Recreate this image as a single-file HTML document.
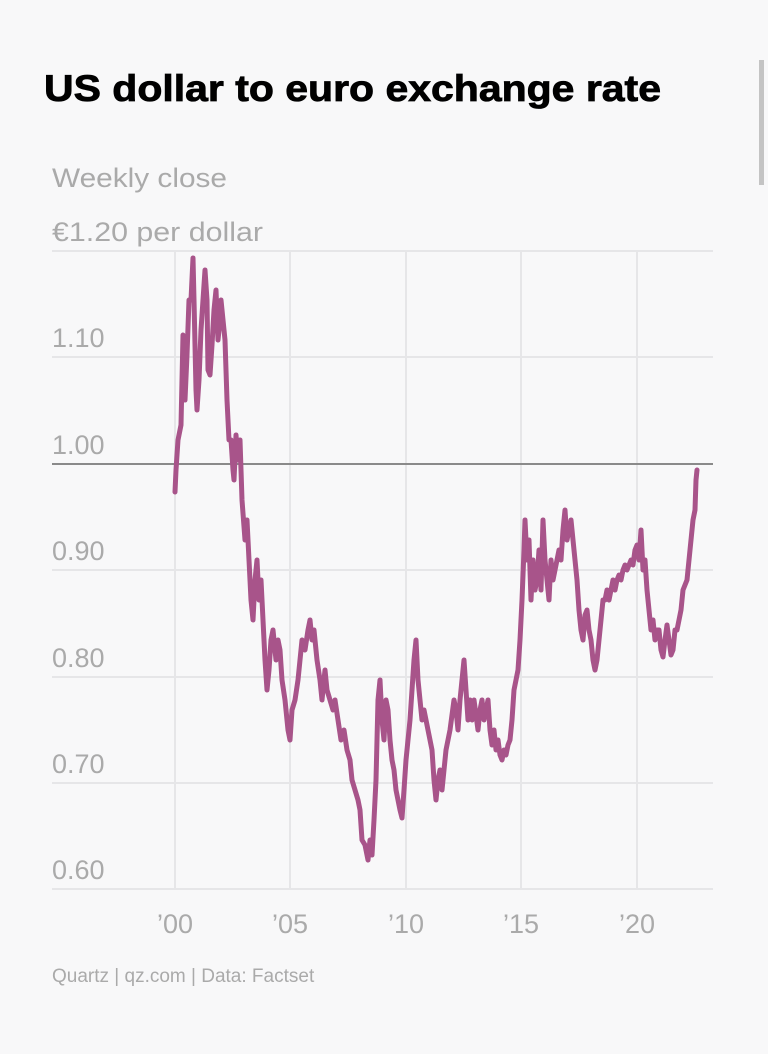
<!DOCTYPE html>
<html><head><meta charset="utf-8"><style>
html,body{margin:0;padding:0;background:#f8f8f9;}
svg{display:block;}
</style></head><body>
<svg width="768" height="1054" viewBox="0 0 768 1054" xmlns="http://www.w3.org/2000/svg" font-family="Liberation Sans, sans-serif">
<rect width="768" height="1054" fill="#f8f8f9"/>
<rect x="759" y="60" width="5" height="125" fill="#c4c4c4"/>
<text x="44" y="101" font-size="37" font-weight="bold" fill="#000" stroke="#000" stroke-width="0.8" textLength="617" lengthAdjust="spacingAndGlyphs">US dollar to euro exchange rate</text>
<text x="52" y="187" font-size="27" fill="#aaaaaa" textLength="175" lengthAdjust="spacingAndGlyphs">Weekly close</text>
<text x="52" y="241" font-size="27" fill="#aaaaaa" textLength="211" lengthAdjust="spacingAndGlyphs">€1.20 per dollar</text>
<g stroke="#e6e6e8" stroke-width="2">
<line x1="52" y1="251" x2="713" y2="251"/>
<line x1="52" y1="357" x2="713" y2="357"/>
<line x1="52" y1="570" x2="713" y2="570"/>
<line x1="52" y1="677" x2="713" y2="677"/>
<line x1="52" y1="783" x2="713" y2="783"/>
<line x1="52" y1="889" x2="713" y2="889"/>
<line x1="175" y1="251" x2="175" y2="889"/>
<line x1="290" y1="251" x2="290" y2="889"/>
<line x1="406" y1="251" x2="406" y2="889"/>
<line x1="521" y1="251" x2="521" y2="889"/>
<line x1="637" y1="251" x2="637" y2="889"/>
</g>
<line x1="52" y1="464" x2="713" y2="464" stroke="#8a8a8a" stroke-width="2"/>
<g font-size="27" fill="#aaaaaa">
<text x="52" y="347">1.10</text>
<text x="52" y="454">1.00</text>
<text x="52" y="560">0.90</text>
<text x="52" y="667">0.80</text>
<text x="52" y="773">0.70</text>
<text x="52" y="879">0.60</text>
</g>
<g font-size="27" fill="#aaaaaa" text-anchor="middle">
<text x="175" y="933">’00</text>
<text x="290" y="933">’05</text>
<text x="406" y="933">’10</text>
<text x="521" y="933">’15</text>
<text x="637" y="933">’20</text>
</g>
<text x="52" y="982" font-size="19" fill="#aaaaaa">Quartz | qz.com | Data: Factset</text>
<polyline fill="none" stroke="#a8548a" stroke-width="5" stroke-linejoin="round" stroke-linecap="round" points="175,492 176,470 178,440 181,425 183,335 185,400 187,355 189,300 191,300 193,258 194,300 196,390 197,410 199,380 201,330 203,300 205,270 207,300 208,370 210,375 212,345 214,310 216,290 218,340 219,330 221,300 223,320 225,340 227,400 229,440 231,440 233,470 234,480 236,435 238,460 240,440 242,500 245,540 247,520 249,560 251,600 253,620 255,580 257,560 259,600 261,580 263,620 265,660 267,690 269,670 271,640 273,630 276,660 278,640 280,650 282,680 285,700 288,730 290,740 292,710 295,700 298,680 300,660 302,640 305,650 308,630 310,620 312,640 314,630 317,660 320,680 322,700 325,670 327,690 330,700 333,710 335,700 338,720 341,740 344,730 347,750 350,760 352,780 355,790 358,800 360,810 362,840 365,845 368,860 370,840 372,855 374,820 376,780 378,700 380,680 382,720 384,740 386,700 388,710 390,740 392,760 394,770 396,790 398,800 400,810 402,818 404,790 406,760 408,740 410,720 412,690 414,660 416,640 418,680 420,700 422,720 424,710 426,720 428,730 430,740 432,750 434,780 436,800 438,780 440,770 442,790 444,770 446,750 448,740 450,730 452,715 454,700 456,710 458,730 460,700 462,680 464,660 466,690 468,720 470,700 472,720 474,700 476,715 478,730 480,710 482,700 484,720 486,710 488,700 490,730 492,745 494,730 496,750 498,740 500,755 502,760 504,750 506,755 508,745 510,740 512,720 514,690 516,680 518,670 520,640 522,600 524,550 525,520 527,560 529,540 531,600 533,560 535,590 537,580 539,550 541,590 543,520 545,560 547,580 549,600 551,560 553,580 555,570 557,560 559,550 561,560 563,530 565,510 567,540 569,530 571,520 573,540 575,560 577,580 579,610 581,630 583,640 585,615 587,610 589,630 591,640 593,660 595,670 597,660 599,640 601,620 603,600 605,600 607,590 609,600 611,590 613,580 615,590 617,580 619,575 621,580 623,570 625,565 627,570 629,565 631,560 633,565 635,550 637,545 639,560 641,530 643,570 645,560 647,590 649,610 651,630 653,620 655,640 657,630 659,630 661,650 663,657 665,640 667,625 669,640 671,655 673,650 675,630 677,630 679,620 681,610 683,590 685,585 687,580 689,560 691,540 693,520 695,510 696,480 697,470"/>
</svg>
</body></html>
